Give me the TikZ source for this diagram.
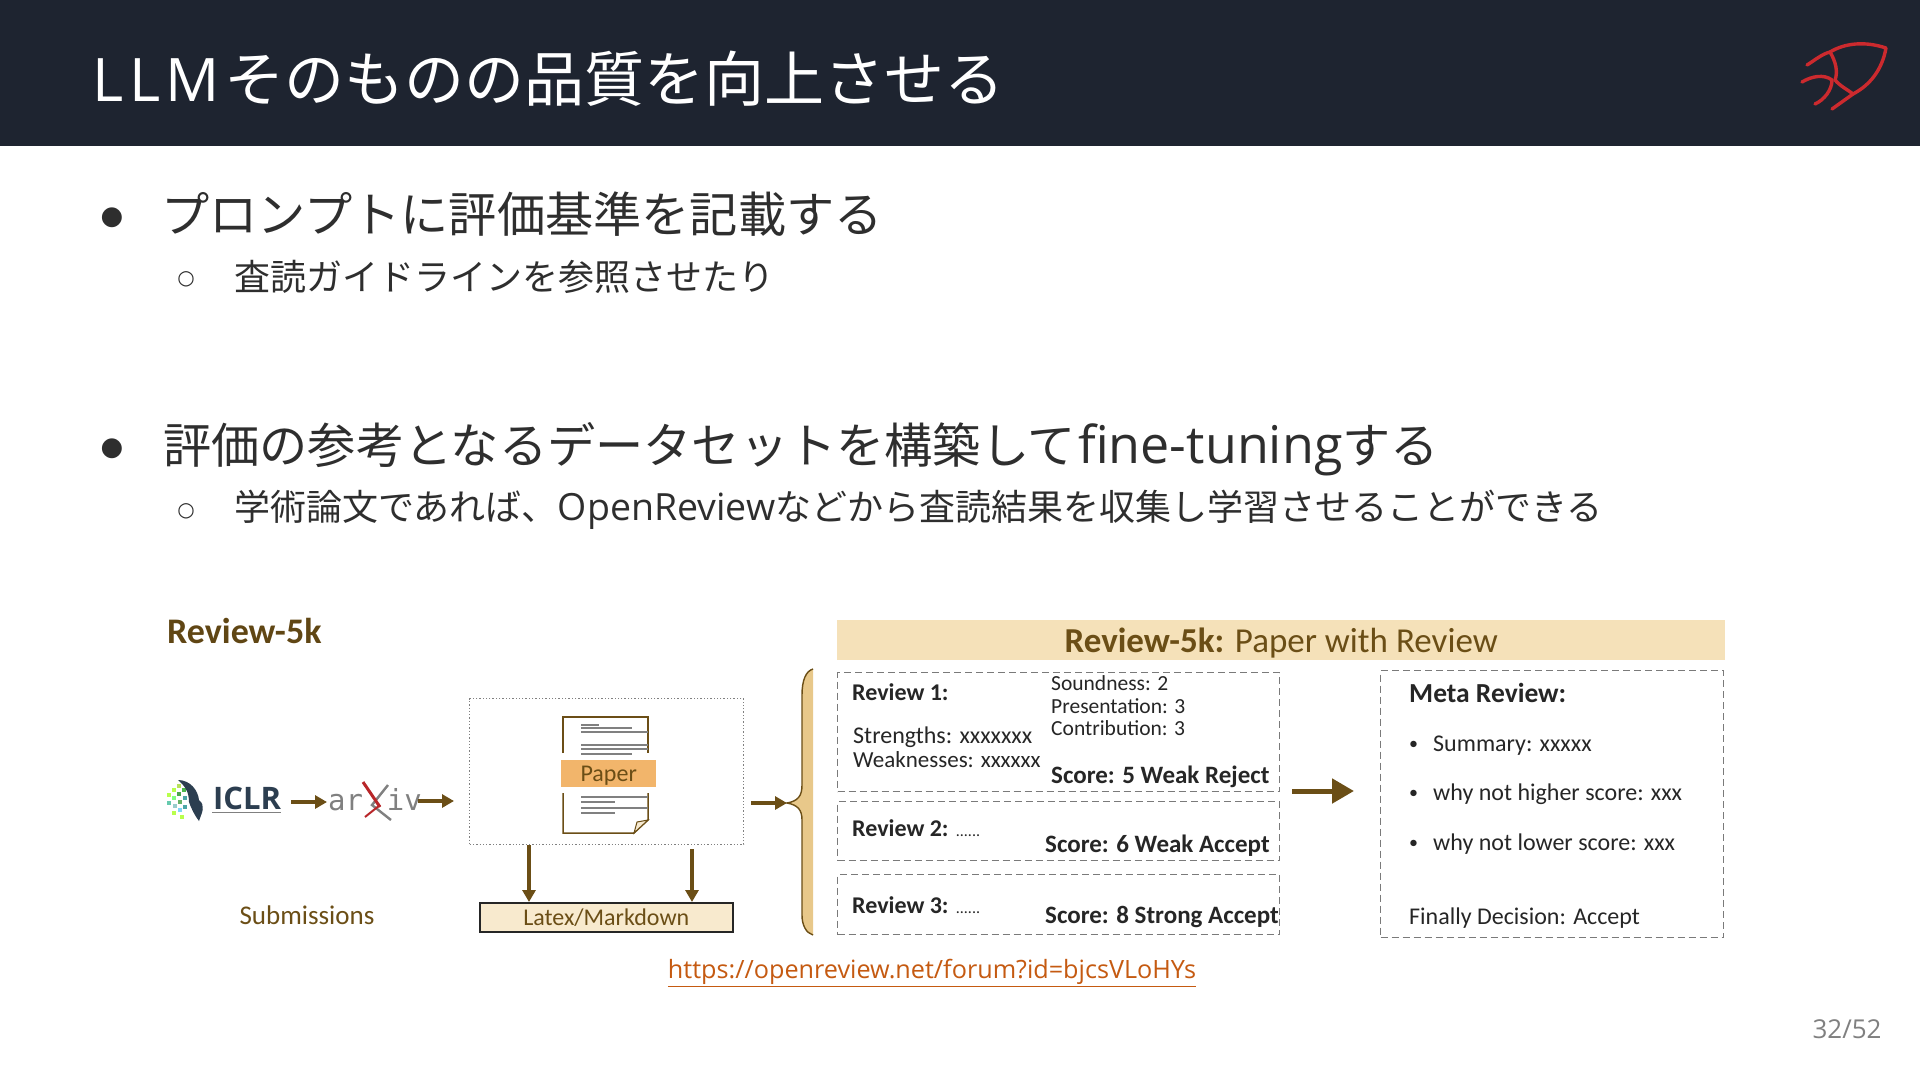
\documentclass[tikz,border=0pt]{standalone}
\usepackage{fontspec}
\setmainfont{Open Sans}
\newfontfamily\jp{Noto Sans CJK JP}
\newfontfamily\djv{DejaVu Sans}
\newfontfamily\djm{DejaVu Sans Mono}
\newfontfamily\cmc{Carlito}
\usetikzlibrary{arrows.meta}
\newcommand{\fs}[1]{\fontsize{#1}{#1}\selectfont}
\definecolor{hdr}{HTML}{1E2430}
\definecolor{bodyc}{HTML}{2E2E2E}
\definecolor{brn}{HTML}{6B4E16}
\definecolor{logored}{HTML}{CC2A2E}
\definecolor{band}{HTML}{F5E1B9}
\definecolor{tanc}{HTML}{E8C88A}
\definecolor{dashc}{HTML}{7A7A7A}
\definecolor{lnk}{HTML}{C55A11}
\definecolor{paperc}{HTML}{F2B56B}
\definecolor{iclrc}{HTML}{2C3E50}
\tikzset{
  lbl/.style={anchor=west,inner sep=0pt,text=bodyc},
  h1/.style={lbl,font=\fs{48.2}},
  h2/.style={lbl,font=\fs{36}},
  dot1/.style={anchor=center,inner sep=0pt,text=bodyc,font=\djv\fs{26}},
  dot2/.style={anchor=center,inner sep=0pt,text=bodyc,font=\djv\fs{20}},
  arr/.style={draw=brn,line width=3.5pt,-{Triangle[length=12pt,width=13pt]}},
  dg/.style={anchor=west,inner sep=0pt,yshift=-1.5pt,text=black!85,font=\cmc\fs{24}},
  dgs/.style={dg,font=\cmc\fs{21.5}},
  dgb/.style={dg,font=\cmc\bfseries\fs{25}},
  dgd/.style={dg,font=\cmc\fs{18}},
  rbox/.style={draw=dashc,line width=1.3pt,dash pattern=on 7pt off 4pt,inner sep=0pt,anchor=north west},
  docl/.style={draw=brn,line width=1.5pt},
  docg/.style={draw=gray,line width=1.4pt},
  logol/.style={draw=logored,line width=3.4pt,line cap=round,line join=round},
}
\begin{document}
\begin{tikzpicture}[x=1pt,y=-1pt]
\useasboundingbox (0,0) rectangle (1920,1080);
\fill[white] (0,0) rectangle (1920,1080);
\fill[hdr] (0,0) rectangle (1920,146);
\node[lbl,text=white,font=\fs{60}] (title) at (92,79) {L\hspace{6pt}L\hspace{5pt}M\hspace{4pt}{\jp\hspace{1pt}そのものの品質を向上させる}};
% logo
\draw[logol] (1807,65) .. controls (1815,60) and (1822,54) .. (1830,52) .. controls (1845,43) and (1865,41) .. (1886,48) .. controls (1882,70) and (1870,85) .. (1853,94) -- (1832,109);
\draw[logol] (1830,52) .. controls (1836,62) and (1838,72) .. (1835,80) .. controls (1840,86) and (1848,90) .. (1853,94);
\draw[logol] (1802,82) .. controls (1812,76) and (1824,74) .. (1832,80) .. controls (1832,90) and (1824,100) .. (1815,104);
% bullets
\node[dot1] (b1) at (112,218) {●};
\node[h1] (t1) at (161,214) {\jp プロンプトに評価基準を記載する};
\node[dot2] (b2) at (186,279) {○};
\node[h2] (t2) at (234,277) {\jp 査読ガイドラインを参照させたり};
\node[dot1] (b3) at (112,449) {●};
\node[h1] (t3) at (163,449) {{\jp 評価の参考となるデータセットを構築して}\hspace{2pt}{\fs{52}fine-tuning}{\jp する}};
\node[dot2] (b4) at (186,511) {○};
\node[h2] (t4) at (234,510) {{\jp 学術論文であれば、}{\fs{37.5}OpenReview}{\jp などから査読結果を収集し学習させることができる}};
% left diagram
\node[anchor=west,inner sep=0pt,text=brn!90!black,font=\cmc\bfseries\fs{36}] (r5k) at (167,631) {Review-5k};
% ICLR logo
\foreach \x/\y/\c in {167/793/green!40!yellow!70,172/788/green!40!yellow!70,177/784/yellow!60!green!70,172/796/green!50,177/792/green!50!black!70,182/788/green!60!black!70,167/801/cyan!40!green!60,173/804/teal!40,178/800/green!50!black!60,183/796/teal!70,172/811/green!40!yellow!70,178/808/cyan!50,183/805/teal!70,180/815/green!40!yellow!70}
  \fill[\c] (\x,\y) rectangle +(4,4);
\fill[iclrc] (178,780) .. controls (190,780) and (198,790) .. (199,800) .. controls (206,806) and (202,812) .. (199,821) .. controls (195,816) and (191,808) .. (189,802) .. controls (189,792) and (185,786) .. (178,780) -- cycle;
\node[anchor=center,inner sep=0pt,text=iclrc,font=\bfseries\fs{31}] (iclr) at (247,798) {ICLR};
\draw[gray,line width=1pt] (212,812) -- (281,812);
\node[anchor=center,inner sep=0pt,text=gray,font=\djm\fs{29}] (arxiv) at (375,800) {ar\hspace{24pt}iv};
\draw[gray,line width=2.4pt] (388,785) -- (372,805) -- (391,820);
\draw[draw=logored!90!black,line width=3pt] (363,782) -- (380,807);
\draw[draw=logored!90!black,line width=2pt] (380,805) -- (365,817);
\coordinate (a1s) at (291,802);
\coordinate (a1e) at (327,802);
\draw[arr] (a1s) -- (a1e);
\coordinate (a2s) at (418,801);
\coordinate (a2e) at (454,801);
\draw[arr] (a2s) -- (a2e);
\node[draw=gray,line width=1.3pt,dotted,inner sep=0pt,anchor=north west,minimum width=274pt,minimum height=146pt] (pbox) at (469,698) {};
% paper
\draw[docl] (563,753) -- (563,717) -- (648,717) -- (648,753);
\draw[docl] (563,793) -- (563,833) -- (634,833) -- (648,820) -- (648,793);
\fill[tanc!40!white,draw=brn,line width=1pt] (634,833) -- (637,822) -- (648,820) -- cycle;
\foreach \ya/\xa/\xb in {725/581/599,728/581/632,732/581/648,745/581/648,749/581/648,754/581/632,797/581/648,802/581/615,808/581/648,813/581/615}
  \draw[docg] (\xa,\ya) -- (\xb,\ya);
\node[fill=paperc,inner sep=0pt,anchor=north west,minimum width=95pt,minimum height=27pt] (paperband) at (561,760) {};
\node[anchor=center,inner sep=0pt,yshift=-2pt,text=brn,font=\cmc\fs{24}] (paper) at (paperband.center) {Paper};
\node[draw=black!85,fill=band!70!white,line width=1.6pt,inner sep=0pt,anchor=north west,minimum width=253pt,minimum height=29pt,text=brn,font=\cmc\fs{24}] (latex) at (479,902) {Latex/Markdown};
\coordinate (d2s) at (692,849);
\draw[arr] (pbox.south -| 529,0) -- (latex.north -| 529,0);
\draw[arr] (d2s) -- (latex.north -| 692,0);
\node[anchor=center,inner sep=0pt,text=brn,font=\cmc\fs{27}] (subm) at (307,915) {Submissions};
\coordinate (a3s) at (751,803);
\coordinate (a3e) at (787,803);
\draw[arr] (a3s) -- (a3e);
% brace
\fill[tanc] (813,669) .. controls (806,671) and (802,680) .. (802,695) -- (802,785) .. controls (802,796) and (798,801) .. (787,803) .. controls (798,805) and (802,810) .. (802,820) -- (802,915) .. controls (802,925) and (806,933) .. (813,935) -- cycle;
\draw[brn,line width=1.4pt] (813,669) .. controls (806,671) and (802,680) .. (802,695) -- (802,785) .. controls (802,796) and (798,801) .. (787,803) .. controls (798,805) and (802,810) .. (802,820) -- (802,915) .. controls (802,925) and (806,933) .. (813,935);
% right diagram
\node[fill=band,inner sep=0pt,anchor=north west,minimum width=888pt,minimum height=40pt] (head) at (837,620) {};
\node[anchor=center,inner sep=0pt,yshift=-2.5pt,text=brn,font=\cmc\fs{35}] (headt) at (head.center) {\textbf{Review-5k:} Paper with Review};
\node[rbox,minimum width=442pt,minimum height=119pt] (r1) at (837,672) {};
\node[rbox,minimum width=442pt,minimum height=59pt] (r2) at (837,801) {};
\node[rbox,minimum width=442pt,minimum height=60pt] (r3) at (837,874) {};
\node[rbox,minimum width=343pt,minimum height=267pt] (meta) at (1380,670) {};
\node[dgb,font=\cmc\bfseries\fs{24}] (r1t) at (852,691) {Review 1:};
\node[dgs] (s1) at (1051,682) {Soundness: 2};
\node[dgs] (s2) at (1051,705) {Presentation: 3};
\node[dgs] (s3) at (1051,727) {Contribution: 3};
\node[dg] (s4) at (853,736) {Strengths: xxxxxxx};
\node[dg,font=\cmc\fs{23}] (s5) at (853,758) {Weaknesses: xxxxxx};
\node[dgb] (s6) at (1051,775) {Score: 5 Weak Reject};
\node[dgb,font=\cmc\bfseries\fs{24}] (r2t) at (852,827) {Review 2: {\mdseries\fs{16}......}};
\node[dgb] (s7) at (1045,844) {Score: 6 Weak Accept};
\node[dgb,font=\cmc\bfseries\fs{24}] (r3t) at (852,904) {Review 3: {\mdseries\fs{16}......}};
\node[dgb] (s8) at (1045,915) {Score: 8 Strong Accept};
\coordinate (a4s) at (1292,791);
\coordinate (a4e) at (1354,791);
\draw[draw=brn,line width=5pt,-{Triangle[length=22pt,width=24pt]}] (a4s) -- (a4e);
\node[dgb,font=\cmc\bfseries\fs{27.5}] (mt) at (1409,691) {Meta Review:};
\node[dgd] (m1d) at (1409,744) {•};
\node[dg] (m1) at (1433,744) {Summary: xxxxx};
\node[dgd] (m2d) at (1409,793) {•};
\node[dg] (m2) at (1433,793) {why not higher score: xxx};
\node[dgd] (m3d) at (1409,843) {•};
\node[dg] (m3) at (1433,843) {why not lower score: xxx};
\node[dg] (m4) at (1409,917) {Finally Decision: Accept};
% link
\node[anchor=center,inner sep=0pt,text=lnk,font=\fs{25.2}] (url) at (932,973) {\underline{https://openreview.net/forum?id=bjcsVLoHYs}};
\node[anchor=center,inner sep=0pt,text=gray,font=\fs{26}] (pg) at (1847,1029) {32/52};
\end{tikzpicture}
\end{document}
